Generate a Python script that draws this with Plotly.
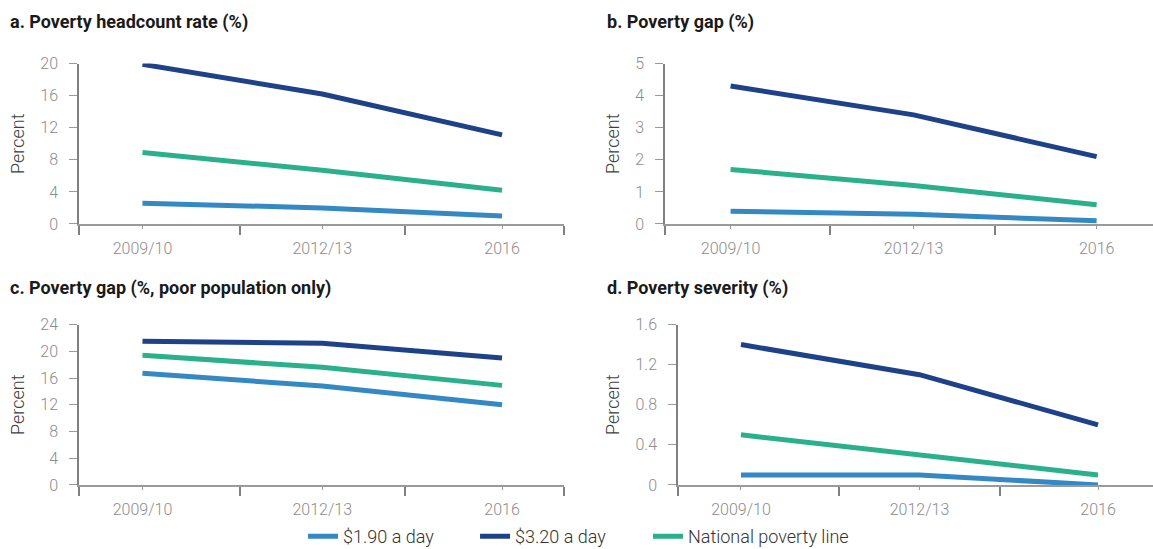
import plotly.graph_objects as go

# Survey periods (x categories)
periods = ["2009/10", "2012/13", "2016"]

# a. Poverty headcount rate (%)
headcount_190 = [2.6, 2.0, 1.0]
headcount_320 = [19.9, 16.2, 11.1]
headcount_npl = [8.9, 6.7, 4.2]

# b. Poverty gap (%)
gap_190 = [0.4, 0.3, 0.1]
gap_320 = [4.3, 3.4, 2.1]
gap_npl = [1.7, 1.2, 0.6]

# c. Poverty gap (%, poor population only)
gap_poor_190 = [16.7, 14.8, 12.0]
gap_poor_320 = [21.5, 21.2, 19.0]
gap_poor_npl = [19.4, 17.6, 14.9]

# d. Poverty severity (%)
severity_190 = [0.1, 0.1, 0.0]
severity_320 = [1.4, 1.1, 0.6]
severity_npl = [0.5, 0.3, 0.1]

series_names = ["$1.90 a day", "$3.20 a day", "National poverty line"]
colors = ["#3489c4", "#1d428a", "#2ab08a"]

panel_titles = [
    "a. Poverty headcount rate (%)",
    "b. Poverty gap (%)",
    "c. Poverty gap (%, poor population only)",
    "d. Poverty severity (%)",
]
panel_data = [
    [headcount_190, headcount_320, headcount_npl],
    [gap_190, gap_320, gap_npl],
    [gap_poor_190, gap_poor_320, gap_poor_npl],
    [severity_190, severity_320, severity_npl],
]
y_ranges = [[0, 20], [0, 5], [0, 24], [0, 1.6]]
y_dticks = [4, 1, 4, 0.4]

# Panel geometry (paper fractions) and x-axis extents
x_domains = [[0.0685, 0.4892], [0.5768, 1.0], [0.0685, 0.4892], [0.588, 1.0]]
y_domains = [[0.592, 0.8843], [0.592, 0.8843], [0.1166, 0.4089], [0.1166, 0.4089]]
x_ranges = [[-0.3533, 2.345], [-0.358, 2.308], [-0.3533, 2.345], [-0.353, 2.308]]
x_boundary_ticks = [
    [-0.353, 0.542, 1.458, 2.344],
    [-0.357, 0.545, 1.443],
    [-0.353, 0.542, 1.458, 2.344],
    [-0.352, 0.548, 1.449],
]
title_pos = [(0.0069, 0.960), (0.5247, 0.960), (0.0069, 0.4754), (0.5247, 0.4754)]

# One single-entry legend per series, laid out in a row along the bottom
legend_ids = ["legend", "legend2", "legend3"]
legend_x = [0.2628, 0.4120, 0.5620]

AXIS_GREY = "#9a9a9a"
TICK_GREY = "#8c8c8c"
FONT = "Roboto"

xpos = list(range(len(periods)))

fig = go.Figure()
layout = {}
annotations = []

for i in range(4):
    suffix = "" if i == 0 else str(i + 1)
    for j, values in enumerate(panel_data[i]):
        fig.add_trace(go.Scatter(
            x=xpos,
            y=values,
            mode="lines",
            name=series_names[j],
            line=dict(color=colors[j], width=5),
            xaxis="x" + suffix,
            yaxis="y" + suffix,
            showlegend=(i == 0),
            legend=legend_ids[j],
            hoverinfo="skip",
        ))

    layout["xaxis" + suffix] = dict(
        domain=x_domains[i],
        range=x_ranges[i],
        anchor="y" + suffix,
        tickmode="array",
        tickvals=xpos,
        ticktext=periods,
        ticks="outside",
        ticklen=3,
        tickwidth=1,
        tickcolor=AXIS_GREY,
        showline=True,
        linecolor=AXIS_GREY,
        linewidth=1.5,
        showgrid=False,
        zeroline=False,
        tickfont=dict(family=FONT, size=16, color=TICK_GREY, weight=300),
        ticklabelstandoff=6,
        minor=dict(
            tickmode="array",
            tickvals=x_boundary_ticks[i],
            ticks="outside",
            ticklen=9,
            tickwidth=1.5,
            tickcolor="#808080",
            showgrid=False,
        ),
        fixedrange=True,
    )
    layout["yaxis" + suffix] = dict(
        domain=y_domains[i],
        range=y_ranges[i],
        anchor="x" + suffix,
        tickmode="linear",
        tick0=0,
        dtick=y_dticks[i],
        ticks="outside",
        ticklen=8,
        tickwidth=1,
        tickcolor=AXIS_GREY,
        showline=True,
        linecolor="#808080",
        linewidth=1.5,
        showgrid=False,
        zeroline=False,
        tickfont=dict(family=FONT, size=16, color=TICK_GREY, weight=300),
        ticklabelstandoff=8,
        title=dict(
            text="Percent",
            font=dict(family=FONT, size=18, color="#404040", weight=300),
            standoff=11,
        ),
        fixedrange=True,
    )

    tx, ty = title_pos[i]
    annotations.append(dict(
        text="<b>" + panel_titles[i] + "</b>",
        x=tx, y=ty, xref="paper", yref="paper",
        xanchor="left", yanchor="middle",
        showarrow=False,
        font=dict(family=FONT, size=18, color="#1a1a1a"),
    ))

for k, lid in enumerate(legend_ids):
    layout[lid] = dict(
        orientation="h",
        x=legend_x[k],
        xanchor="left",
        xref="paper",
        y=0.0225,
        yanchor="middle",
        yref="container",
        font=dict(family=FONT, size=18, color="#333333", weight=300),
        bgcolor="rgba(0,0,0,0)",
        borderwidth=0,
    )

fig.update_layout(
    **layout,
    annotations=annotations,
    width=1153,
    height=549,
    margin=dict(l=0, r=0, t=0, b=0, autoexpand=False),
    paper_bgcolor="white",
    plot_bgcolor="white",
    showlegend=True,
)

fig.write_html("out.html")
